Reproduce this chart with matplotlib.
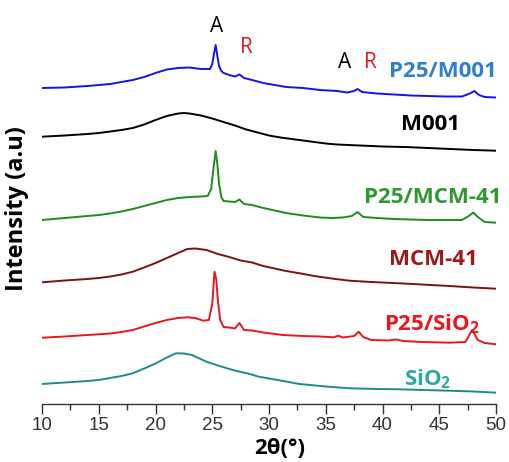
import matplotlib
matplotlib.use("Agg")
import matplotlib.pyplot as plt

# ---- data (2theta in degrees, intensity in offset arbitrary units) ----
tt_p25_m001 = [10, 12, 14, 15, 16, 17, 18, 19, 20, 21, 22, 23, 24, 24.8, 25.0, 25.15, 25.3, 25.45,
               25.6, 25.8, 26.0, 26.5, 27.0, 27.4, 27.8, 28.5, 29.5, 30.5, 31.5, 33, 34.5, 36, 36.9,
               37.5, 37.8, 38.2, 39.5, 41, 42.5, 44, 45.5, 47.0, 47.7, 48.1, 48.5, 49, 50]
int_p25_m001 = [316, 316.5, 318, 319, 320, 322, 324, 327, 331, 334.5, 336, 336.5, 335, 335, 340, 350, 359, 348,
                338, 333, 331, 329, 327.5, 329.5, 326, 324, 321, 319, 317, 316, 314, 313, 311.5,
                313, 315, 312, 310.5, 309.5, 308.5, 308, 307.5, 307.5, 310.5, 313, 309, 307, 306.5]

tt_m001 = [10, 12, 14, 15, 16, 17, 18, 19, 20, 21, 22, 22.5, 23, 24, 25, 26, 27, 28, 29, 30, 31, 32,
           33, 34, 35, 36, 37, 38, 40, 42, 44, 46, 48, 50]
int_m001 = [267.3, 268.5, 270, 271, 272.5, 274, 276, 279.5, 284, 288, 290.5, 291, 290.5, 288.5, 285.5,
            282, 278.5, 274.5, 271.5, 268.5, 266.5, 265, 263.5, 262, 260.5, 259.5, 259, 258.5, 257.5,
            257, 256, 255, 254, 253.3]

tt_p25_mcm = [10, 12, 14, 15, 16, 17, 18, 19, 20, 21, 22, 23, 24, 24.6, 24.9, 25.1, 25.3, 25.45, 25.6,
              25.8, 26.0, 26.5, 27.0, 27.4, 27.8, 28.5, 29.5, 30.5, 31.5, 33, 34.5, 35.5, 36.5, 37.3,
              37.8, 38.3, 39.5, 41, 42.5, 44, 45.5, 47.0, 47.6, 48.0, 48.4, 49, 50]
int_p25_mcm = [184, 186, 188, 189, 190.5, 192.5, 195, 198, 201, 204, 206, 207, 207.5, 208, 215, 235, 253,
               240, 220, 207, 203, 202.5, 202, 204.5, 200, 199, 196, 193.5, 191, 188.5, 186.5, 186,
               186.5, 188, 192, 187, 186, 185, 184.5, 184, 184, 184, 188, 191.5, 187, 182, 181.3]

tt_mcm = [10, 12, 14, 15, 16, 17, 18, 19, 20, 21, 22, 22.8, 23.5, 24.5, 25.5, 26.5, 27.5, 28.5, 29.5,
          30.5, 31.5, 32.7, 34, 35.5, 37.1, 39, 41.5, 43.5, 45.9, 48, 50]
int_mcm = [121.7, 123.5, 125, 126, 127.5, 129.5, 132.3, 136.5, 141, 146, 151, 155, 155.5, 154, 150,
           147, 143.5, 141.5, 138, 135.5, 133, 130.7, 128, 125.5, 123.3, 122, 120.7, 119.5, 118,
           116.5, 115.3]

tt_p25_sio2 = [10, 12, 14, 15, 16, 17, 18, 19, 20, 21, 22, 22.8, 23.5, 24.2, 24.7, 25.0, 25.2, 25.35,
               25.5, 25.7, 26.0, 26.5, 27.0, 27.4, 27.8, 28.5, 29.5, 31.2, 33, 34.5, 35.7, 36.1, 36.5,
               37.5, 37.9, 38.3, 39.0, 40.5, 41.2, 41.8, 43.5, 45.9, 47.3, 47.9, 48.4, 49, 50]
int_p25_sio2 = [66.3, 67.5, 69, 69.7, 70.5, 72, 74, 77.5, 81, 84, 86, 86.7, 86, 83.3, 84, 100, 132.3,
                125, 103, 84, 77, 76.5, 75.5, 81, 74, 73.5, 71.5, 69, 68, 67.5, 66.7, 68.3, 66.5,
                68, 72.3, 67, 64, 63.5, 64.5, 63, 62, 61.3, 62, 74, 64, 61, 59.7]

tt_sio2 = [10, 12, 14, 15, 16, 17, 18, 19, 20, 21, 21.8, 22.5, 23.2, 24.5, 25.5, 26.8, 28.3, 29.1,
           30.5, 32.7, 35, 37.1, 39.5, 41.5, 43.5, 45.9, 48, 50]
int_sio2 = [20, 21.5, 23, 24, 26, 28, 30.7, 35.5, 40.5, 46.5, 50.7, 50.5, 49, 42.3, 38.5, 34, 30, 27.3,
            24.5, 20, 17.5, 15.7, 15, 14.7, 14, 13.3, 12.5, 11.3]

series_labels = ["P25/M001", "M001", "P25/MCM-41", "MCM-41", "P25/SiO$_\\mathbf{2}$", "SiO$_\\mathbf{2}$"]
x_ticks = [10, 15, 20, 25, 30, 35, 40, 45, 50]

# ---- styling ----
plt.rcParams['mathtext.fontset'] = 'custom'
plt.rcParams['mathtext.rm'] = 'Open Sans'
plt.rcParams['mathtext.bf'] = 'Open Sans:bold'

W, H = 509, 462
fig = plt.figure(figsize=(W / 100, H / 100), dpi=100)
ax = fig.add_axes([42 / W, (H - 404) / H, 454 / W, 404 / H])

line_colors = ["#1414e6", "#000000", "#1e8c1e", "#7a1212", "#e8161e", "#1f8a8a"]
label_colors = ["#2f7fcf", "#000000", "#2e9a2e", "#a01818", "#e8161e", "#2aaaa2"]

curves = [(tt_p25_m001, int_p25_m001), (tt_m001, int_m001), (tt_p25_mcm, int_p25_mcm),
          (tt_mcm, int_mcm), (tt_p25_sio2, int_p25_sio2), (tt_sio2, int_sio2)]
for (xx, yy), c in zip(curves, line_colors):
    ax.plot(xx, yy, color=c, lw=1.4)

ax.set_xlim(10, 50)
ax.set_ylim(0, 404)
for s in ["left", "right", "top"]:
    ax.spines[s].set_visible(False)
ax.spines["bottom"].set_color("#333333")
ax.spines["bottom"].set_linewidth(1.0)
ax.set_yticks([])
ax.set_xticks(x_ticks)
ax.set_xticks([12.5, 17.5, 22.5, 27.5, 32.5, 37.5, 42.5, 47.5], minor=True)
ax.tick_params(axis="x", which="major", length=7, width=1.0, color="#333333",
               labelsize=13.5, labelcolor="#333333", pad=2)
ax.tick_params(axis="x", which="minor", length=4, width=1.0, color="#333333")
for lab in ax.get_xticklabels():
    lab.set_family(["Liberation Sans Narrow", "Liberation Sans", "DejaVu Sans"])

lab_font = ["Open Sans", "DejaVu Sans"]
label_pos = [(50.1, 327.3, "right"), (44.19, 274, "center"), (44.4, 201, "center"),
             (44.48, 139, "center"), (44.4, 74, "center"), (43.96, 19, "center")]
for text, (lx, ly, ha), c in zip(series_labels, label_pos, label_colors):
    ax.text(lx, ly, text, color=c, fontsize=16, fontweight="bold", family=lab_font,
            ha=ha, va="baseline", clip_on=False)

# phase markers
ax.text(25.42, 372.3, "A", color="black", fontsize=15, family=lab_font, ha="center", va="baseline")
ax.text(27.97, 350.7, "R", color="#e8161e", fontsize=15, family=lab_font, ha="center", va="baseline")
ax.text(36.7, 336, "A", color="black", fontsize=15, family=lab_font, ha="center", va="baseline")
ax.text(38.94, 336, "R", color="#e8161e", fontsize=15, family=lab_font, ha="center", va="baseline")

fig.text(280 / W, 1 - 448 / H, "2θ(°)", fontsize=16, fontweight="bold", family=lab_font,
         ha="center", va="center")
fig.text(17 / W, 1 - 209 / H, "Intensity (a.u)", fontsize=17, fontweight="bold", family=lab_font,
         ha="center", va="center", rotation=90)

fig.savefig("out.png", dpi=100)
